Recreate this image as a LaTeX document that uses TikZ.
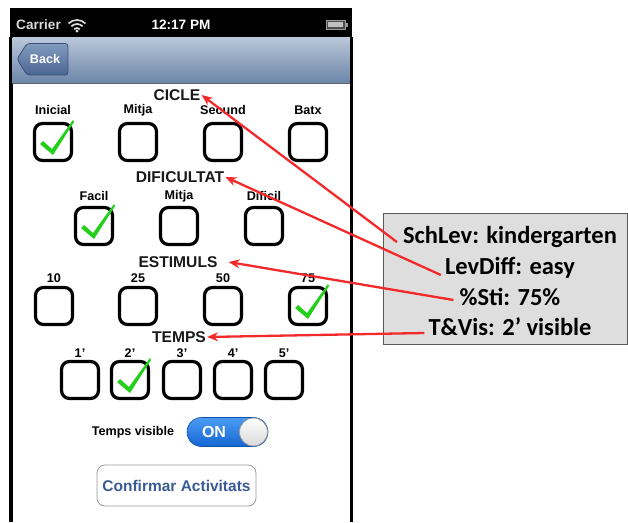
\documentclass[tikz,border=0pt]{standalone}
\usepackage{fontspec}
\setmainfont{Liberation Sans}
\newfontfamily\notefont{Carlito}
\usetikzlibrary{arrows.meta,positioning}

\definecolor{navtop}{HTML}{BAC8DA}
\definecolor{navbot}{HTML}{6C85A8}
\definecolor{backtop}{HTML}{819ABE}
\definecolor{backbot}{HTML}{4A6692}
\definecolor{tickgreen}{HTML}{22D01A}
\definecolor{arrowred}{HTML}{F42A2A}
\definecolor{notegray}{HTML}{DEDEDE}
\definecolor{btnblue}{HTML}{3B5B94}
\definecolor{togtop}{HTML}{4C9CF2}
\definecolor{togbot}{HTML}{1466D2}

\begin{document}
\begin{tikzpicture}[x=1pt, y=-1pt,
    chk/.style={draw=black, line width=3.2pt, rounded corners=8pt, minimum size=37pt, inner sep=0pt},
    title/.style={font=\bfseries\fontsize{15.6}{18}\selectfont, text=black!90, inner sep=1pt},
    lbl/.style={font=\bfseries\fontsize{12.6}{14}\selectfont, inner sep=0pt},
    bar/.style={font=\bfseries\fontsize{13.6}{15}\selectfont, inner sep=0pt},
    noteline/.style={font=\notefont\bfseries\fontsize{24.5}{28}\selectfont, inner sep=0pt},
    redarr/.style={-{Stealth[length=11pt,width=9pt]}, line width=2.3pt, arrowred},
    tick/.pic={
        \fill[tickgreen] (-13,2) -- (-10,-1) -- (-1,7) -- (20,-22) -- (21,-20) -- (0,13) -- cycle;
    }
]
    \useasboundingbox (0,0) rectangle (628,522);

    % Phone frame and status bar
    \fill[black] (10,8) rectangle (352,37);
    \fill[black] (9,37) rectangle (12.5,522);
    \fill[black] (349.5,37) rectangle (353,522);
    \node[bar, text=black!15, anchor=west] (carrier) at (16,25) {Carrier};
    \fill[black!15] (77,31) circle (1.7);
    \draw[black!15, line width=1.7pt] (74.17,29.17) arc (225:315:4);
    \draw[black!15, line width=1.7pt] (71.34,26.34) arc (225:315:8);
    \draw[black!15, line width=1.7pt] (68.51,23.51) arc (225:315:12);
    \node[bar, text=white] (clock) at (181,25) {12:17 PM};
    \draw[black!40, line width=1pt, fill=black!70] (326,20) rectangle (345,29);
    \fill[black!25] (328,22) rectangle (343,27);
    \fill[black!40] (345,22.5) rectangle (347.5,26.5);

    % Navigation bar
    \shade[top color=navtop, bottom color=navbot] (12.5,37) rectangle (349.5,83);
    \draw[black!60, line width=1pt] (12.5,83) -- (349.5,83);
    \shade[top color=backtop, bottom color=backbot, draw=backbot!80!black, line width=0.8pt, rounded corners=3pt]
        (17,59) -- (27,43.5) -- (68,43.5) -- (68,75) -- (27,75) -- cycle;
    \node[lbl, text=white] (back) at (45,59) {Back};

    % CICLE
    \node[title] (cicle) at (177,95) {CICLE};
    \foreach \x/\name/\txt in {53/ini/Inicial, 138/mit/Mitja, 223/sec/Secund, 308/bat/Batx} {
        \node[lbl] (l\name) at (\x,110) {\txt};
        \node[chk] (c\name) at (\x,142) {};
    }
    \pic at (cini) {tick};

    % DIFICULTAT
    \node[title] (dific) at (180,177) {DIFICULTAT};
    \foreach \x/\name/\txt in {94/fac/Facil, 179/mtj/Mitja, 264/dif/Dificil} {
        \node[lbl] (l\name) at (\x,196) {\txt};
        \node[chk] (c\name) at (\x,226) {};
    }
    \pic at (cfac) {tick};

    % ESTIMULS
    \node[title] (estim) at (178,262) {ESTIMULS};
    \foreach \x/\txt in {54/10, 138/25, 223/50, 308/75} {
        \node[lbl] (l\txt) at (\x,278) {\txt};
        \node[chk] (c\txt) at (\x,306) {};
    }
    \pic at (c75) {tick};

    % TEMPS
    \node[title] (temps) at (179,337) {TEMPS};
    \foreach \x/\n in {80/1, 130/2, 182/3, 233/4, 284/5} {
        \node[lbl] (lt\n) at (\x,353) {\n'};
        \node[chk] (ct\n) at (\x,380) {};
    }
    \pic at (ct2) {tick};

    % Switch
    \node[lbl] (visible) at (133,432) {Temps visible};
    \shade[top color=togtop, bottom color=togbot, draw=togbot!80!black, line width=0.6pt, rounded corners=14.5pt]
        (187,417.5) rectangle (268,446.5);
    \node[font=\bfseries\fontsize{16}{18}\selectfont, text=white] (on) at (214,432) {ON};
    \shade[top color=white, bottom color=black!15, draw=black!40, line width=0.8pt] (253.5,432) circle (14);

    % Button
    \node[draw=black!40, line width=0.8pt, fill=white, rounded corners=8pt, minimum width=159pt, minimum height=41pt,
        font=\bfseries\fontsize{15.5}{18}\selectfont, text=btnblue] (confirm) at (176.5,485.5) {Confirmar Activitats};

    % Annotation box
    \node[draw=black!65, line width=0.8pt, fill=notegray, minimum width=244pt, minimum height=131pt] (notebox) at (505,278.5) {};
    \node[noteline] (sch) at (510,237) {SchLev: kindergarten};
    \node[noteline] (lev) at (510,268) {LevDiff: easy};
    \node[noteline] (sti) at (510,297) {\%Sti: 75\%};
    \node[noteline] (tvis) at (510,327) {T\&Vis: 2’ visible};

    % Arrows
    \draw[redarr] ([shift={(-6,5)}]sch.west) -- (cicle.east);
    \draw[redarr] ([shift={(-4,7)}]lev.west) -- (dific.east);
    \draw[redarr] ([shift={(-6,3)}]sti.west) -- ([xshift=10pt]estim.east);
    \draw[redarr] ([shift={(-4,6)}]tvis.west) -- (temps.east);
\end{tikzpicture}
\end{document}
